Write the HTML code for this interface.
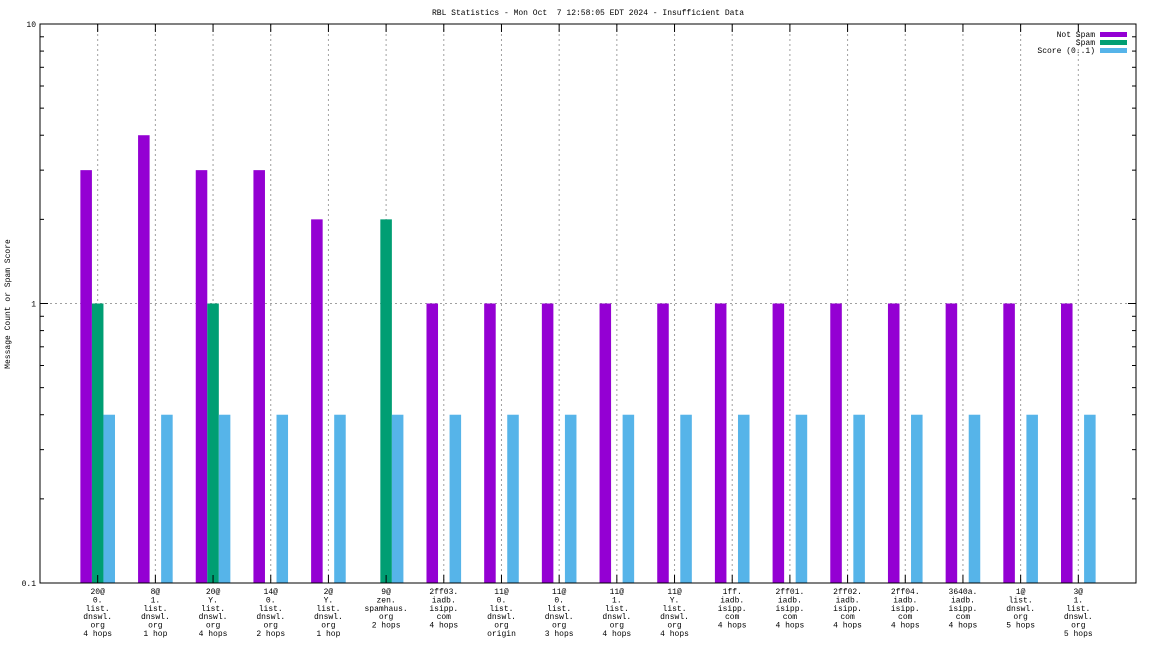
<!DOCTYPE html>
<html><head><meta charset="utf-8"><style>
body{margin:0;background:#fff;}
svg{display:block;font-family:"Liberation Mono",monospace;font-size:8px;}
</style></head><body>
<svg id="chart" width="1152" height="648" viewBox="0 0 1152 648">
<text x="588" y="15" text-anchor="middle" xml:space="preserve" style="white-space:pre">RBL Statistics - Mon Oct  7 12:58:05 EDT 2024 - Insufficient Data</text>
<text transform="translate(10,304) rotate(-90)" text-anchor="middle">Message Count or Spam Score</text>
<g id="grid"></g><g id="bars"></g><g id="axes"></g><g id="labels"></g>
<g>
<text x="1095" y="37" text-anchor="end">Not Spam</text>
<rect x="1100" y="32" width="27" height="5" fill="#9400d3"/>
<text x="1095" y="45" text-anchor="end">Spam</text>
<rect x="1100" y="40" width="27" height="5" fill="#009e73"/>
<text x="1095" y="53" text-anchor="end">Score (0..1)</text>
<rect x="1100" y="48" width="27" height="5" fill="#56b4e9"/>
</g>
</svg>
<script>
const categories=[
["20@","0.","list.","dnswl.","org","4 hops"],
["8@","1.","list.","dnswl.","org","1 hop"],
["20@","Y.","list.","dnswl.","org","4 hops"],
["14@","0.","list.","dnswl.","org","2 hops"],
["2@","Y.","list.","dnswl.","org","1 hop"],
["9@","zen.","spamhaus.","org","2 hops"],
["2ff03.","iadb.","isipp.","com","4 hops"],
["11@","0.","list.","dnswl.","org","origin"],
["11@","0.","list.","dnswl.","org","3 hops"],
["11@","1.","list.","dnswl.","org","4 hops"],
["11@","Y.","list.","dnswl.","org","4 hops"],
["1ff.","iadb.","isipp.","com","4 hops"],
["2ff01.","iadb.","isipp.","com","4 hops"],
["2ff02.","iadb.","isipp.","com","4 hops"],
["2ff04.","iadb.","isipp.","com","4 hops"],
["3640a.","iadb.","isipp.","com","4 hops"],
["1@","list.","dnswl.","org","5 hops"],
["3@","1.","list.","dnswl.","org","5 hops"]];
const notSpam=[3,4,3,3,2,0,1,1,1,1,1,1,1,1,1,1,1,1];
const spam=[1,0,1,0,0,2,0,0,0,0,0,0,0,0,0,0,0,0];
const score=[0.4,0.4,0.4,0.4,0.4,0.4,0.4,0.4,0.4,0.4,0.4,0.4,0.4,0.4,0.4,0.4,0.4,0.4];
const yTicks=["0.1","1","10"];
const NS="http://www.w3.org/2000/svg";
const L=40,R=1136,T=24,B=583;
function xs(v){return L+(v+1)*(R-L)/(categories.length+1);}
function ys(v){return B-(Math.log10(v)+1)*(B-T)/2;}
function mk(tag,attrs,parent){const e=document.createElementNS(NS,tag);for(const k in attrs)e.setAttribute(k,attrs[k]);document.getElementById(parent).appendChild(e);return e;}
categories.forEach((c,i)=>{
 const g=mk('line',{x1:xs(i),x2:xs(i),y1:T,y2:B,stroke:'#a0a0a0','stroke-dasharray':'2,3','stroke-width':1},'grid');
 
 
});
{const g=mk('line',{x1:L,x2:R,y1:ys(1),y2:ys(1),stroke:'#a0a0a0','stroke-dasharray':'2,3','stroke-width':1},'grid');
 
 }
const bw=(R-L)/(categories.length+1)*0.2;
const series=[[notSpam,'#9400d3',-1,'bar-not-spam'],[spam,'#009e73',0,'bar-spam'],[score,'#56b4e9',1,'bar-score']];
series.forEach(([arr,col,off,nm])=>{
 arr.forEach((v,i)=>{
  if(v<=0)return;
  const cx=xs(i)+off*bw, y=ys(v);
  const r=mk('rect',{x:cx-bw/2,y:y,width:bw,height:B-y,fill:col},'bars');
  
  
 });
});
{const a=mk('rect',{x:L,y:T,width:R-L,height:B-T,fill:'none',stroke:'#000','stroke-width':1},'axes');
 
 }
yTicks.forEach(t=>{
 const v=parseFloat(t),y=ys(v);
 const tx=mk('text',{x:L-4,y:y+3,'text-anchor':'end'},'axes');tx.textContent=t;
 
 
 mk('line',{x1:L,x2:L+8,y1:y,y2:y,stroke:'#000'},'axes');
 mk('line',{x1:R,x2:R-8,y1:y,y2:y,stroke:'#000'},'axes');
});
[0.1,1].forEach(d=>{for(let k=2;k<10;k++){const y=ys(d*k);
 mk('line',{x1:L,x2:L+4,y1:y,y2:y,stroke:'#000'},'axes');
 mk('line',{x1:R,x2:R-4,y1:y,y2:y,stroke:'#000'},'axes');}});
categories.forEach((c,i)=>{
 const x=xs(i);
 mk('line',{x1:x,x2:x,y1:B,y2:B-8,stroke:'#000'},'axes');
 mk('line',{x1:x,x2:x,y1:T,y2:T+8,stroke:'#000'},'axes');
 const t=mk('text',{x:x,y:594,'text-anchor':'middle'},'labels');
 
 
 c.forEach((ln,j)=>{const s=document.createElementNS(NS,'tspan');s.setAttribute('x',x);s.setAttribute('y',594+j*8.4);s.textContent=ln;t.appendChild(s);});
});
</script>
</body></html>
